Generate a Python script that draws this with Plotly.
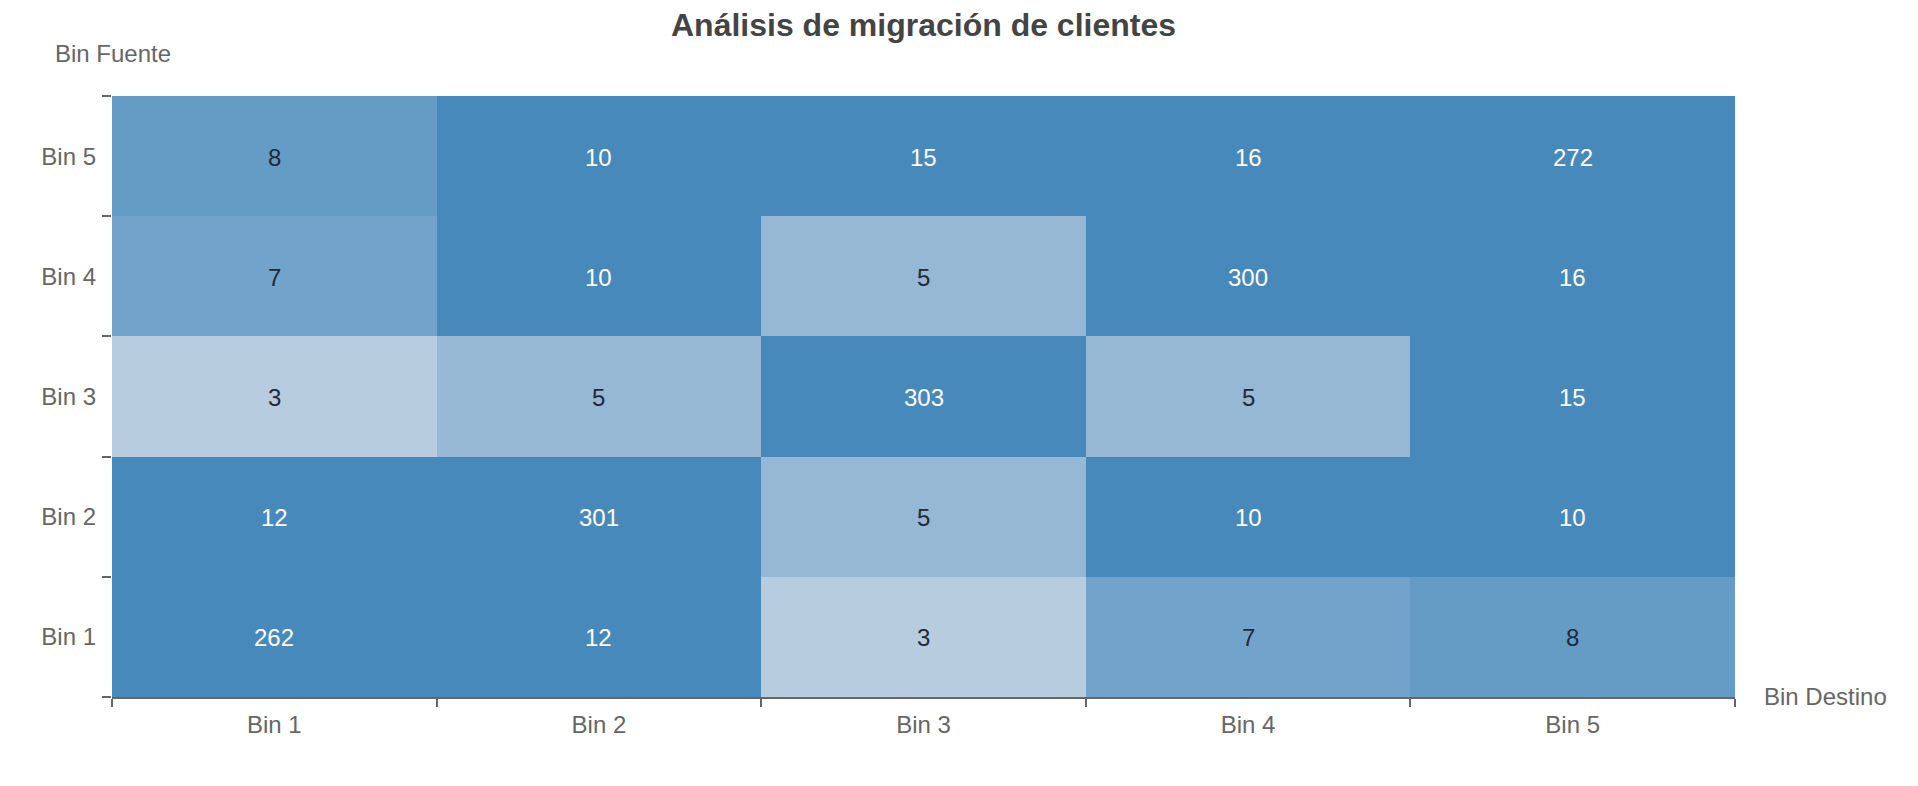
import plotly.graph_objects as go

bins = ["Bin 1", "Bin 2", "Bin 3", "Bin 4", "Bin 5"]

# filas = bin fuente (Bin 1 .. Bin 5), columnas = bin destino (Bin 1 .. Bin 5)
migracion = [
    [262, 12, 3, 7, 8],
    [12, 301, 5, 10, 10],
    [3, 5, 303, 5, 15],
    [7, 10, 5, 300, 16],
    [8, 10, 15, 16, 272],
]

zmin, zmax = 3, 10
escala = [
    [0.0, "#b8cce0"],
    [(5 - zmin) / (zmax - zmin), "#97b8d5"],
    [(7 - zmin) / (zmax - zmin), "#72a4cb"],
    [(8 - zmin) / (zmax - zmin), "#659cc6"],
    [1.0, "#4889bb"],
]

fig = go.Figure()
fig.add_trace(go.Heatmap(
    x=bins, y=bins, z=migracion,
    zmin=zmin, zmax=zmax, colorscale=escala,
    showscale=False, hoverinfo="skip",
))

# etiquetas de las celdas
etiquetas = []
for i, fila in enumerate(migracion):
    for j, v in enumerate(fila):
        etiquetas.append(dict(
            x=bins[j], y=bins[i], text=str(v), showarrow=False, yshift=-1,
            font=dict(family="Liberation Sans", size=24,
                      color="#1e2a38" if v < zmax else "#ffffff"),
        ))

eje = dict(
    showgrid=False, zeroline=False, tickson="boundaries",
    ticks="outside", tickcolor="#666", tickwidth=2,
    tickfont=dict(family="Liberation Sans", size=24, color="#666"),
)

fig.update_xaxes(eje, ticklen=8, showline=True, linecolor="#666", linewidth=2,
                 ticklabelstandoff=5)
fig.update_yaxes(eje, ticklen=9, showline=False, ticklabelstandoff=15)

# la página tiene 8px de margen en el body
fig.update_layout(
    width=1902, height=770,
    margin=dict(l=104, r=175, t=88, b=81),
    plot_bgcolor="white", paper_bgcolor="white",
    title=dict(
        text="<b>Análisis de migración de clientes</b>",
        font=dict(family="Liberation Sans", size=32, color="#444"),
        x=0.5, xref="paper", xanchor="center",
        y=1 - 17 / 770, yref="container", yanchor="middle",
    ),
    annotations=etiquetas + [
        dict(text="Bin Fuente", xref="paper", yref="paper",
             x=(53 - 112) / 1623, y=(697 - 53) / 601,
             xanchor="left", yanchor="middle", showarrow=False,
             font=dict(family="Liberation Sans", size=24, color="#666")),
        dict(text="Bin Destino", xref="paper", yref="paper",
             x=(1762 - 112) / 1623, y=(697 - 696) / 601,
             xanchor="left", yanchor="middle", showarrow=False,
             font=dict(family="Liberation Sans", size=24, color="#666")),
    ],
)

fig.write_html("out.html")
